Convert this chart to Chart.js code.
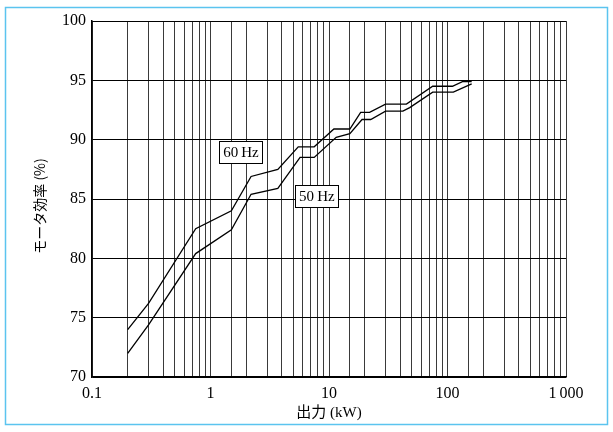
<!DOCTYPE html>
<html>
<head>
<meta charset="utf-8">
<script src="https://cdn.jsdelivr.net/npm/chart.js@4/dist/chart.umd.min.js"></script>
<style>
  html, body { margin: 0; padding: 0; background: #fff; }
  #wrap { width: 613px; height: 432px; position: relative; }
</style>
</head>
<body>
<div id="wrap"><canvas id="effChart" width="613" height="432"></canvas></div>
<script>
/* Data */
const kw_60 = [0.2, 0.3, 0.75, 1.5, 2.2, 3.7, 5.5, 7.5, 11, 15, 18.5, 22, 30, 45, 75, 110, 135, 160];
const eff_60 = [74.0, 76.2, 82.5, 84.0, 86.9, 87.5, 89.4, 89.4, 90.9, 90.9, 92.3, 92.3, 93.0, 93.0, 94.5, 94.5, 94.9, 94.9];

const kw_50 = [0.2, 0.3, 0.75, 1.5, 2.2, 3.7, 5.7, 7.5, 11.5, 15, 19, 22.5, 30, 42, 48, 75, 112, 160];
const eff_50 = [72.0, 74.4, 80.4, 82.4, 85.4, 85.9, 88.5, 88.5, 90.2, 90.5, 91.7, 91.7, 92.4, 92.4, 92.7, 94.0, 94.0, 94.7];

const x_labels = { 0.1: '0.1', 1: '1', 10: '10', 100: '100', 1000: '1\u2009000' };

// series tags placed in data coordinates
const tags = [
    { text: '60\u2009Hz', x: 1.81, y: 88.95 },
    { text: '50\u2009Hz', x: 7.9, y: 85.25 }
];

const serif = "'Liberation Serif', 'DejaVu Serif', serif";
const jp = "'Liberation Serif', 'Noto Sans CJK JP', serif";

const toPoints = (xs, ys) => xs.map((x, i) => ({ x: x, y: ys[i] }));

/* Frame + tags */
const decor = {
    id: 'decor',
    beforeDraw(chart) {
        const ctx = chart.ctx;
        ctx.save();
        ctx.fillStyle = '#fff';
        ctx.fillRect(0, 0, chart.width, chart.height);
        ctx.strokeStyle = '#5bc4ef';
        ctx.lineWidth = 1.5;
        ctx.strokeRect(5.5, 7.5, 602, 417);
        ctx.restore();
    },
    afterDatasetsDraw(chart) {
        const ctx = chart.ctx;
        const xs = chart.scales.x, ys = chart.scales.y;
        ctx.save();
        ctx.font = '15px ' + serif;
        ctx.textAlign = 'center';
        ctx.textBaseline = 'middle';
        tags.forEach(t => {
            const px = xs.getPixelForValue(t.x);
            const py = ys.getPixelForValue(t.y);
            const w = ctx.measureText(t.text).width + 8;
            const h = 22;
            ctx.fillStyle = '#fff';
            ctx.fillRect(px - w / 2, py - h / 2, w, h);
            ctx.strokeStyle = '#000';
            ctx.lineWidth = 1;
            ctx.strokeRect(Math.round(px - w / 2) + 0.5, Math.round(py - h / 2) + 0.5, Math.round(w), h);
            ctx.fillStyle = '#000';
            ctx.fillText(t.text, px, py + 1);
        });
        ctx.restore();
    }
};

/* Create chart */
const my_chart = new Chart('effChart', {
    type: 'line',
    data: {
        datasets: [
            {
                label: '60 Hz',
                data: toPoints(kw_60, eff_60),
                borderColor: '#000',
                borderWidth: 1.3,
                pointRadius: 0,
                tension: 0
            },
            {
                label: '50 Hz',
                data: toPoints(kw_50, eff_50),
                borderColor: '#000',
                borderWidth: 1.3,
                pointRadius: 0,
                tension: 0
            }
        ]
    },
    options: {
        responsive: false,
        animation: false,
        layout: { padding: { top: 21, right: 47, left: 0, bottom: 0 } },
        scales: {
            x: {
                type: 'logarithmic',
                min: 0.1,
                max: 1000,
                afterFit(scale) { scale.height = 55; },
                grid: { color: '#3a3a3a', lineWidth: 1, drawTicks: false },
                border: { color: '#000', width: 1.5 },
                ticks: {
                    autoSkip: false,
                    maxRotation: 0,
                    padding: 7,
                    color: '#000',
                    font: { family: serif, size: 16 },
                    callback: (v) => x_labels[v] !== undefined ? x_labels[v] : ''
                },
                title: {
                    display: true,
                    text: '出力 (kW)',
                    color: '#000',
                    font: { family: jp, size: 15 },
                    padding: { top: 0, bottom: 10 }
                }
            },
            y: {
                type: 'linear',
                min: 70,
                max: 100,
                afterFit(scale) { scale.width = 92; },
                grid: { color: '#000', lineWidth: 1, drawTicks: false },
                border: { color: '#000', width: 1.5 },
                ticks: {
                    stepSize: 5,
                    padding: 6,
                    color: '#000',
                    font: { family: serif, size: 16 }
                },
                title: {
                    display: true,
                    text: 'モータ効率 (%)\u3000',
                    color: '#000',
                    font: { family: "'Noto Sans CJK JP', sans-serif", size: 14 },
                    padding: { top: 31, bottom: 0 }
                }
            }
        },
        plugins: {
            legend: { display: false },
            tooltip: { enabled: false }
        }
    },
    plugins: [decor]
});
</script>
</body>
</html>
